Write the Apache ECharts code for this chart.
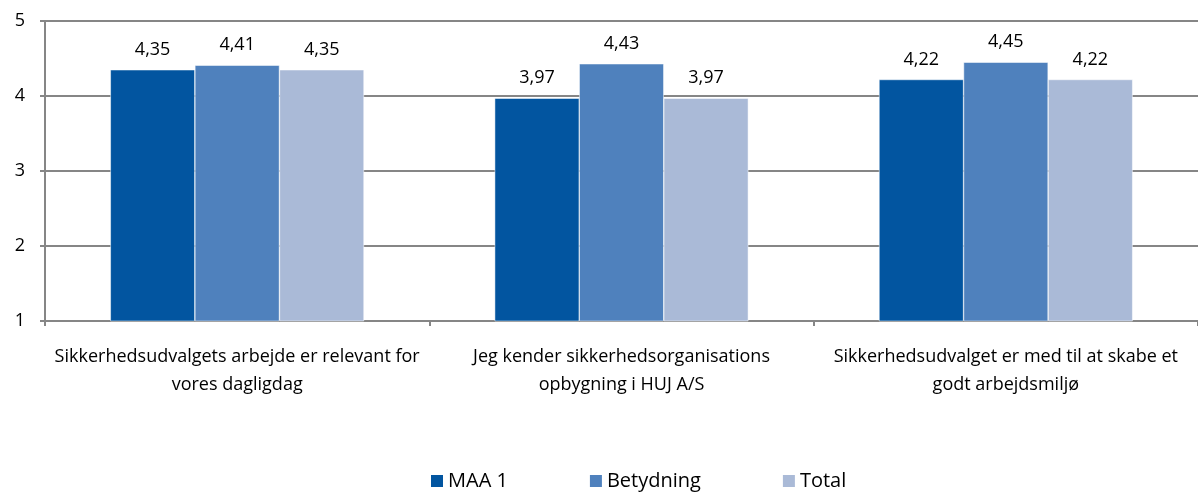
<!DOCTYPE html>
<html>
<head>
<meta charset="utf-8">
<script src="https://cdn.jsdelivr.net/npm/echarts@6/dist/echarts.min.js"></script>
<style>
html,body{margin:0;padding:0;background:#fff;}
#main{width:1198px;height:493px;}
</style>
</head>
<body>
<div id="main"></div>
<script>
var categories = [
    "Sikkerhedsudvalgets arbejde er relevant for\nvores dagligdag",
    "Jeg kender sikkerhedsorganisations\nopbygning i HUJ A/S",
    "Sikkerhedsudvalget er med til at skabe et\ngodt arbejdsmiljø"
];
var maa1 = [4.35, 3.97, 4.22];
var betydning = [4.41, 4.43, 4.45];
var total = [4.35, 3.97, 4.22];
var seriesNames = ["MAA 1", "Betydning", "Total"];
var colors = ["#0255A0", "#4F81BD", "#AABAD7"];

var myChart = echarts.init(document.getElementById("main"));
var font = "'Open Sans', sans-serif";

function makeSeries(name, data, color) {
    return {
        name: name,
        type: 'bar',
        data: data,
        barGap: '0%',
        barCategoryGap: '34%',
        itemStyle: { color: color, borderColor: '#fff', borderWidth: 0.5 },
        label: {
            show: true,
            position: 'top',
            distance: 11,
            color: '#000',
            fontFamily: font,
            fontSize: 18,
            formatter: function (p) { return p.value.toFixed(2).replace('.', ','); }
        }
    };
}

var option = {
    animation: false,
    textStyle: { fontFamily: font },
    grid: { left: 45, right: 0, top: 21, bottom: 172 },
    legend: {
        bottom: -3,
        left: 424,
        itemWidth: 14,
        itemHeight: 14,
        itemGap: 80,
        icon: 'rect',
        textStyle: { fontSize: 20, color: '#000', fontFamily: font, padding: [0, 0, 0, -1] },
        data: seriesNames
    },
    xAxis: {
        type: 'category',
        data: categories,
        axisLine: { lineStyle: { color: '#868686', width: 2 } },
        axisTick: { show: true, length: 5, alignWithLabel: false, lineStyle: { color: '#868686', width: 2 } },
        axisLabel: { color: '#000', fontSize: 18, fontFamily: font, margin: 22, lineHeight: 28, interval: 0 }
    },
    yAxis: {
        type: 'value',
        min: 1,
        max: 5,
        interval: 1,
        axisLine: { show: true, lineStyle: { color: '#868686', width: 2 } },
        axisTick: { show: true, length: 5, lineStyle: { color: '#868686', width: 2 } },
        axisLabel: { color: '#000', fontSize: 18, fontFamily: font, margin: 20 },
        splitLine: { lineStyle: { color: '#868686', width: 2 } }
    },
    series: [
        makeSeries(seriesNames[0], maa1, colors[0]),
        makeSeries(seriesNames[1], betydning, colors[1]),
        makeSeries(seriesNames[2], total, colors[2])
    ]
};
myChart.setOption(option);
</script>
</body>
</html>
